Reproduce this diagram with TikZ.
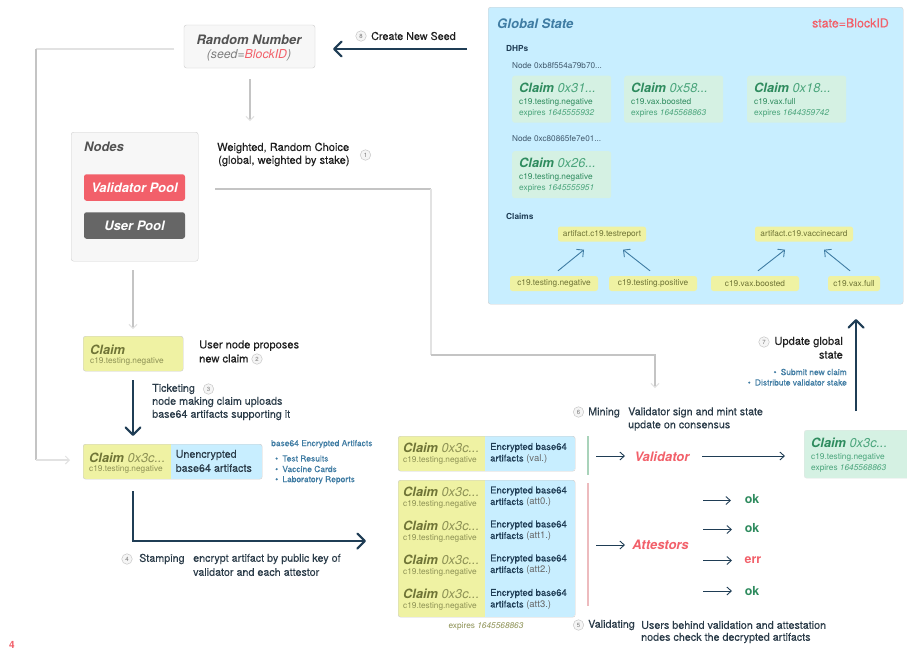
\documentclass[tikz,border=0pt]{standalone}
\usepackage{fontspec}
\setmainfont{TeX Gyre Heros}
\newfontfamily\medf[FakeBold=0.12]{TeX Gyre Heros}
\newfontfamily\semf[FakeBold=0.3]{TeX Gyre Heros}
\usetikzlibrary{arrows.meta,calc}
\definecolor{dk}{HTML}{1F3D55}
\definecolor{txt}{HTML}{2A3B48}
\definecolor{gs}{HTML}{C8EEFF}
\definecolor{gstitle}{HTML}{3F7CA3}
\definecolor{red1}{HTML}{F2606A}
\definecolor{grn}{HTML}{D5F1E3}
\definecolor{grnd}{HTML}{2E8B5E}
\definecolor{grnt}{HTML}{4BA57C}
\definecolor{yel}{HTML}{EFF2A3}
\definecolor{oli}{HTML}{6F7436}
\definecolor{oli2}{HTML}{8E9255}
\definecolor{gl}{HTML}{C4C4C4}
\definecolor{gl2}{HTML}{E2E2E2}
\definecolor{barg}{HTML}{A9D3BA}
\definecolor{barr}{HTML}{EDBBBE}
\newcommand{\fs}[1]{\fontsize{#1}{#1}\selectfont}
\tikzset{
 x=1pt,y=-1pt,
 lbl/.style={inner sep=0pt,anchor=west,text=txt,font=\medf\fs{10.75}},
 blk/.style={inner sep=0pt,anchor=west,text=black!88,font=\medf\fs{11.1}},
 grnbox/.style={draw=none,fill=grn,rounded corners=2.5pt},
 yelchip/.style={fill=yel,rounded corners=2.5pt,inner sep=0pt,text=oli,font=\fs{8.3}},
 num/.style={circle,draw=black!22,fill=black!4,line width=.5pt,minimum size=10.5pt,inner sep=0pt,text=black!55,font=\fs{6}},
 thickarr/.style={draw=dk,line width=2.1pt,-{Straight Barb[length=7.5pt,width=15pt,line width=2.1pt,round]}},
 thinarr/.style={draw=dk,line width=.9pt,-{Straight Barb[length=4.5pt,width=8pt,line width=.9pt]}},
 grayarr/.style={draw=gl,line width=1.2pt,-{Straight Barb[length=4pt,width=8pt,line width=1pt,color=gl2]}},
 bluearr/.style={draw=gstitle,line width=.9pt,-{Straight Barb[length=5pt,width=10pt,line width=.9pt]}},
 ctitle/.style={inner sep=0pt,anchor=west,font=\fs{12.8}},
 csub/.style={inner sep=0pt,anchor=west,font=\fs{8.3}},
 enc/.style={inner sep=0pt,anchor=west,font=\semf\fs{9.5},text=dk},
 base/.style={inner sep=0pt,anchor=west,font=\semf\fs{8.45},text=gstitle},
}
\newcommand{\cl}[2]{\textbf{\itshape Claim} {\itshape\color{#2}#1}}
\begin{document}
\begin{tikzpicture}
\useasboundingbox (0,0) rectangle (907,649);
\fill[white] (0,0) rectangle (907,649);

% ---- Global state
\node[draw=black!18,fill=gs,rounded corners=2.5pt,minimum width=415pt,minimum height=297pt,inner sep=0pt,anchor=north west] (gsbox) at (488,7) {};
\node[inner sep=0pt,anchor=west,font=\fs{13.1}\bfseries\itshape,text=gstitle] (gstitle) at (497,24) {Global State};
\node[inner sep=0pt,anchor=east,font=\medf\fs{12.4},text=red1] (gsid) at (889,23) {state=BlockID};
\node[inner sep=0pt,anchor=west,font=\fs{8.3}\bfseries,text=dk] (dhps) at (506,49) {DHPs};
\node[inner sep=0pt,anchor=west,font=\fs{8.2},text=dk!85] (n1) at (512,65.5) {Node 0xb8f554a79b70...};
\node[inner sep=0pt,anchor=west,font=\fs{8.2},text=dk!85] (n2) at (512,138.5) {Node 0xc80865fe7e01...};
\node[inner sep=0pt,anchor=west,font=\fs{8.3}\bfseries,text=dk] (claimsh) at (506,216.5) {Claims};

\node[grnbox,minimum width=99pt,minimum height=47pt,anchor=north west] (g1) at (512,75.5) {};
\node[grnbox,minimum width=99pt,minimum height=47pt,anchor=north west] (g2) at (624,75.5) {};
\node[grnbox,minimum width=99pt,minimum height=47pt,anchor=north west] (g3) at (747,75.5) {};
\node[grnbox,minimum width=99pt,minimum height=47pt,anchor=north west] (g4) at (512,151) {};

\node[ctitle,text=grnd] (g1a) at (519,87.5) {\cl{0x31...}{grnt}};
\node[csub,text=grnd] (g1b) at (519,102) {c19.testing.negative};
\node[csub,text=grnt] (g1c) at (519,113) {expires {\itshape 1645555932}};
\node[ctitle,text=grnd] (g2a) at (631,87.5) {\cl{0x58...}{grnt}};
\node[csub,text=grnd] (g2b) at (631,102) {c19.vax.boosted};
\node[csub,text=grnt] (g2c) at (631,113) {expires {\itshape 1645568863}};
\node[ctitle,text=grnd] (g3a) at (754,87.5) {\cl{0x18...}{grnt}};
\node[csub,text=grnd] (g3b) at (754,102) {c19.vax.full};
\node[csub,text=grnt] (g3c) at (754,113) {expires {\itshape 1644359742}};
\node[ctitle,text=grnd] (g4a) at (519,163) {\cl{0x26...}{grnt}};
\node[csub,text=grnd] (g4b) at (519,177.5) {c19.testing.negative};
\node[csub,text=grnt] (g4c) at (519,188.5) {expires {\itshape 1645555951}};

\node[yelchip,minimum width=88pt,minimum height=15pt] (a1) at (602,234) {artifact.c19.testreport};
\node[yelchip,minimum width=98pt,minimum height=15pt] (a2) at (804,234) {artifact.c19.vaccinecard};
\node[yelchip,minimum width=88pt,minimum height=15pt] (b1) at (554,283.5) {c19.testing.negative};
\node[yelchip,minimum width=88pt,minimum height=15pt] (b2) at (653,283.5) {c19.testing.positive};
\node[yelchip,minimum width=88pt,minimum height=15pt] (b3) at (755,283.5) {c19.vax.boosted};
\node[yelchip,minimum width=52pt,minimum height=15pt] (b4) at (854,283.5) {c19.vax.full};
\draw[bluearr] ($(b1.north)+(4,-5)$) -- ($(a1.south)+(-18,8)$);
\draw[bluearr] ($(b2.north)+(-3,-5)$) -- ($(a1.south)+(21,8)$);
\draw[bluearr] ($(b3.north)+(3,-5)$) -- ($(a2.south)+(-19,8)$);
\draw[bluearr] ($(b4.north)+(-4,-5)$) -- ($(a2.south)+(20,8)$);

% ---- Random number / nodes
\node[draw=black!20,fill=black!3,rounded corners=2.5pt,minimum width=131pt,minimum height=43pt,inner sep=0pt] (rnd) at (249.5,46.5) {};
\node[inner sep=0pt,font=\fs{13}\bfseries\itshape,text=black!68] (rndt) at (249,39.5) {Random Number};
\node[inner sep=0pt,font=\fs{12.3}\itshape,text=black!50] (rnds) at (249,55) {(seed={\color{red1}BlockID})};
\coordinate (seedstart) at (467,49);
\coordinate (seedend) at (333,49);
\draw[thickarr] (seedstart) -- (seedend);
\node[num] (c8) at (361,36) {8};
\node[lbl,text=black!88] (t8) at (371,36) {Create New Seed};

\node[draw=black!18,fill=black!3,rounded corners=2.5pt,minimum width=127pt,minimum height=129pt,inner sep=0pt,anchor=north west] (nodes) at (71,132) {};
\node[inner sep=0pt,anchor=west,font=\fs{13}\bfseries\itshape,text=black!68] (nodest) at (84,147) {Nodes};
\node[fill=red1,rounded corners=2.5pt,minimum width=101pt,minimum height=26.5pt,inner sep=0pt,text=white,font=\fs{13}\bfseries\itshape] (vp) at (134.5,187.5) {Validator Pool\hspace{3pt}};
\node[fill=black!60,rounded corners=2.5pt,minimum width=101pt,minimum height=26.5pt,inner sep=0pt,text=white,font=\fs{13}\bfseries\itshape] (up) at (134.5,225.5) {User Pool\hspace{3pt}};
\coordinate (ra) at (250,79);
\coordinate (rb) at (250,121);
\draw[grayarr] (ra) -- (rb);
\node[blk] (w1) at (217,148) {Weighted, Random Choice};
\node[blk] (w2) at (218,161) {(global, weighted by stake)};
\node[num] (c1) at (365.5,155) {1};

% long gray connectors
\coordinate (l1a) at (174,49);
\coordinate (l1b) at (36,49);
\coordinate (l1c) at (36,460);
\coordinate (l1d) at (70,460);
\draw[draw=gl2,line width=1.3pt] (l1a) -- (l1b);
\draw[draw=gl,line width=1.3pt] (l1b) -- (l1c);
\draw[draw=gl2,line width=1.3pt,-{Straight Barb[length=4pt,width=8pt,line width=1pt]}] (l1c) -- (l1d);
\coordinate (m1) at (215,189);
\coordinate (m2) at (431,189);
\coordinate (m3) at (431,355);
\coordinate (m4) at (655,355);
\coordinate (m5) at (655,388);
\draw[draw=gl,line width=1.2pt] (m1) -- (m2);
\draw[draw=gl2,line width=1.2pt] (m2) -- (m3);
\draw[grayarr] (m3) -- (m4) -- (m5);
\coordinate (na) at (133,270);
\coordinate (nb) at (133,329);
\draw[grayarr] (na) -- (nb);

% ---- Claim
\node[draw=black!20,fill=yel,rounded corners=2.5pt,minimum width=100pt,minimum height=35pt,inner sep=0pt,anchor=north west] (claim) at (83,336) {};
\node[inner sep=0pt,anchor=west,text=oli,font=\fs{12.8}\bfseries\itshape] (claimt) at (90,349.5) {Claim};
\node[csub,text=oli2] (claims) at (90,361) {c19.testing.negative};
\node[blk] (p1) at (199,345.5) {User node proposes};
\node[blk] (p2) at (199,358.5) {new claim};
\node[num] (c2) at (257,359) {2};
\coordinate (ta) at (133,380);
\coordinate (tb) at (133,436);
\draw[thickarr] (ta) -- (tb);
\node[lbl] (t1) at (152,389) {Ticketing};
\node[num] (c3) at (208.5,389) {3};
\node[lbl] (t2) at (152,402) {node making claim uploads};
\node[lbl] (t3) at (152,415) {base64 artifacts supporting it};

% compound claim
\begin{scope}
\path[clip,rounded corners=2.5pt] (83,444) rectangle (262,479);
\fill[yel] (83,444) rectangle (171,479);
\fill[gs] (171,444) rectangle (262,479);
\end{scope}
\node[draw=black!20,rounded corners=2.5pt,minimum width=179pt,minimum height=35pt,inner sep=0pt,anchor=north west] (cc) at (83,444) {};
\node[ctitle,text=oli] (cct) at (89,458) {\cl{0x3c...}{oli2}};
\node[csub,text=oli2] (ccs) at (89,469.5) {c19.testing.negative};
\node[lbl] (ccu1) at (175.5,455) {Unencrypted};
\node[lbl] (ccu2) at (175.5,468) {base64 artifacts};
\node[base] (bt) at (271,444) {base64 Encrypted Artifacts};
\node[base] (bt1) at (275,458.5) {\textbullet\hspace{4.2pt}Test Results};
\node[base] (bt2) at (275,469) {\textbullet\hspace{4.2pt}Vaccine Cards};
\node[base] (bt3) at (275,480) {\textbullet\hspace{4.2pt}Laboratory Reports};

\coordinate (sa) at (133,491);
\coordinate (sb) at (133,541);
\coordinate (sc) at (366,541);
\draw[thickarr] (sa) -- (sb) -- (sc);
\node[num] (c4) at (127,559) {4};
\node[lbl] (s1) at (139,559) {Stamping};
\node[lbl] (s2) at (193,559) {encrypt artifact by public key of};
\node[lbl] (s3) at (193,572) {validator and each attestor};

% validator box
\begin{scope}
\path[clip,rounded corners=2.5pt] (398,436) rectangle (575,471);
\fill[yel] (398,436) rectangle (485,471);
\fill[gs] (485,436) rectangle (575,471);
\end{scope}
\node[draw=black!20,rounded corners=2.5pt,minimum width=177pt,minimum height=35pt,inner sep=0pt,anchor=north west] (vb) at (398,436) {};
\node[ctitle,text=oli] (vbt) at (403,448) {\cl{0x3c...}{oli2}};
\node[csub,text=oli2] (vbs) at (403,460) {c19.testing.negative};
\node[enc] (vb1) at (490,447.5) {Encrypted base64};
\node[enc] (vb2) at (490,459) {artifacts {\fontspec{TeX Gyre Heros}\color{black!60}(val.)}};

% attestor box
\begin{scope}
\path[clip,rounded corners=2.5pt] (398,480) rectangle (575,617);
\fill[yel] (398,480) rectangle (485,617);
\fill[gs] (485,480) rectangle (575,617);
\end{scope}
\node[draw=black!20,rounded corners=2.5pt,minimum width=177pt,minimum height=137pt,inner sep=0pt,anchor=north west] (ab) at (398,480) {};
\foreach \i/\y in {0/491.5,1/525.5,2/559.5,3/594}{
 \node[ctitle,text=oli] (abt\i) at (403,\y) {\cl{0x3c...}{oli2}};
 \node[csub,text=oli2] (abs\i) at (403,\y+12.5) {c19.testing.negative};
 \node[enc] (ab\i a) at (490,\y-0.5) {Encrypted base64};
 \node[enc] (ab\i b) at (490,\y+11) {artifacts {\fontspec{TeX Gyre Heros}\color{black!60}(att\i.)}};
}
\node[inner sep=0pt,font=\fs{8.3},text=oli2] (exp) at (486,626) {expires {\itshape 1645568863}};

% bars
\coordinate (vbar1) at (587.7,436);
\coordinate (vbar2) at (587.7,475);
\coordinate (abar1) at (587.7,483);
\coordinate (abar2) at (587.7,606);
\draw[draw=barg,line width=2pt] (vbar1) -- (vbar2);
\draw[draw=barr,line width=2pt] (abar1) -- (abar2);

% validator / attestors
\node[inner sep=0pt,font=\fs{13}\bfseries\itshape,text=red1] (valid) at (662,457) {Validator};
\node[inner sep=0pt,font=\fs{13}\bfseries\itshape,text=red1] (atts) at (660.5,544.5) {Attestors};
\coordinate (va) at (596,456);
\coordinate (vt) at (625,456);
\draw[thinarr] (va) -- (vt);
\coordinate (vo) at (702,456);
\coordinate (vr) at (785,456);
\draw[thinarr] (vo) -- (vr);
\coordinate (aa) at (596,545);
\coordinate (at) at (625,545);
\draw[thinarr] (aa) -- (at);
\node[inner sep=0pt,font=\fs{12.4}\bfseries,text=grnd] (ok0) at (752,499.5) {ok};
\node[inner sep=0pt,font=\fs{12.4}\bfseries,text=grnd] (ok1) at (752,528.5) {ok};
\node[inner sep=0pt,font=\fs{12.4}\bfseries,text=red1] (err) at (753,560) {err};
\node[inner sep=0pt,font=\fs{12.4}\bfseries,text=grnd] (ok3) at (752,591) {ok};
\foreach \n/\y/\e in {0/500.5/731,1/529.5/732,2/560.5/732,3/591/732}{
 \coordinate (o\n) at (703,\y);
 \coordinate (oe\n) at (\e,\y);
 \draw[thinarr] (o\n) -- (oe\n);
}

% result
\begin{scope}
\path[clip] (800,425) rectangle (907,485);
\node[draw=black!10,fill=grn,rounded corners=2.5pt,minimum width=110pt,minimum height=48pt,inner sep=0pt,anchor=north west] (res) at (804,430) {};
\end{scope}
\node[ctitle,text=grnd] (rest) at (811,442.5) {\cl{0x3c...}{grnt}};
\node[csub,text=grnt] (ress) at (811,457) {c19.testing.negative};
\node[csub,text=grnt] (rese) at (811,468) {expires {\itshape 1645568863}};

% labels 5 6 7
\node[num] (c6) at (578.5,412) {6};
\node[lbl] (mi) at (588,412.5) {Mining};
\node[lbl] (mi1) at (628,412.5) {Validator sign and mint state};
\node[lbl] (mi2) at (628,425.5) {update on consensus};
\node[num] (c5) at (578.5,625) {5};
\node[lbl] (va1) at (588,625) {Validating};
\node[lbl] (va2) at (641,625) {Users behind validation and attestation};
\node[lbl] (va3) at (641,638) {nodes check the decrypted artifacts};
\node[num] (c7) at (764,342) {7};
\node[blk,anchor=east] (u1) at (843,342) {Update global};
\node[blk,anchor=east] (u2) at (843,355) {state};
\node[base,anchor=east] (ub1) at (847,372) {\textbullet\hspace{4.2pt}Submit new claim};
\node[base,anchor=east] (ub2) at (847,382.5) {\textbullet\hspace{4.2pt}Distribute validator stake};
\coordinate (ua) at (856,411);
\coordinate (ub) at (856,319);
\draw[thickarr] (ua) -- (ub);

\node[inner sep=0pt,font=\fs{10}\bfseries,text=red1] (page) at (12,645) {4};
\end{tikzpicture}
\end{document}
